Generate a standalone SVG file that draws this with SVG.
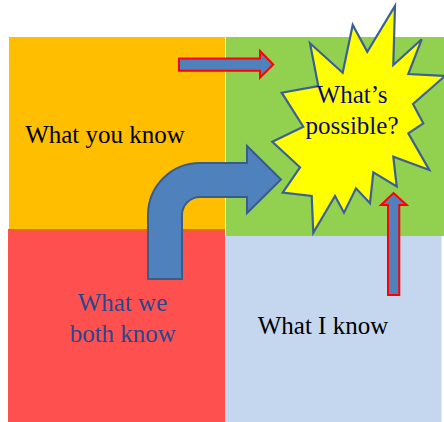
<svg xmlns="http://www.w3.org/2000/svg" width="444" height="422" viewBox="0 0 444 422">
<style>
.lbl{font-family:"Liberation Serif","Times New Roman",serif;font-size:25px;text-anchor:middle}
.blk{fill:#000000}
.arrowR{fill:#4F81BD;stroke:#FF0000;stroke-width:2}
.arrowB{fill:#4F81BD;stroke:#385D8A;stroke-width:2}
</style>
<rect width="444" height="422" fill="#FFFFFF"/>
<g id="you">
<rect x="9" y="37" width="216" height="193" fill="#FFBF00"/>
<text class="lbl blk" x="105" y="143">What you know</text>
</g>
<g id="possible-area">
<rect x="226" y="37" width="218" height="199" fill="#92D050"/>
</g>
<g id="both">
<rect x="8" y="229" width="217" height="193" fill="#FF5050"/>
<rect x="13" y="229.3" width="212" height="2" fill="#E46C0A"/>
</g>
<g id="me">
<rect x="225" y="236" width="216.5" height="186" fill="#C5D7EE"/>
<text class="lbl blk" x="323" y="334">What I know</text>
</g>
<g id="connectors">
<path class="arrowB" d="M148,279 L148,215 A52,52 0 0 1 200,163 L247,163 L247,146 L281,179.5 L247,213 L247,197 L200,197 A18,18 0 0 0 182,215 L182,279 Z"/>
<path class="arrowR" d="M179,58.5 L260,58.5 L260,51 L273.3,64.5 L260,77.7 L260,70.7 L179,70.7 Z"/>
</g>
<g id="both-label">
<text class="lbl" fill="#26488C" x="122.5" y="310.5">What we</text>
<text class="lbl" fill="#26488C" x="122.8" y="341.5">both know</text>
</g>
<g id="star">
<polygon fill="#FFFF00" stroke="#3B6096" stroke-width="2.2" stroke-linejoin="miter" points="310,43.3 342.7,72.7 352.7,25 367.3,51.7 395,6 393.3,65 421.7,39.3 408.3,74 445,76 413,104 423.3,123.3 408.3,133.3 429.3,170 393.3,156.7 396.7,186.5 373.3,172.3 370,203.3 356,188.3 344,212.7 335,196 313.3,232.7 311.7,196 282.7,192.7 300,167.3 272.3,141.7 303.3,126.7 281.7,92.7 318.3,86"/>
<text class="lbl" fill="#0A0A78" x="352" y="103">What’s</text>
<text class="lbl" fill="#0A0A78" x="352" y="133.5">possible?</text>
</g>
<g id="connectors-up">
<path class="arrowR" d="M388,295 L388,205 L381,205 L393.5,193 L406.7,205 L399.3,205 L399.3,295 Z"/>
</g>
</svg>
